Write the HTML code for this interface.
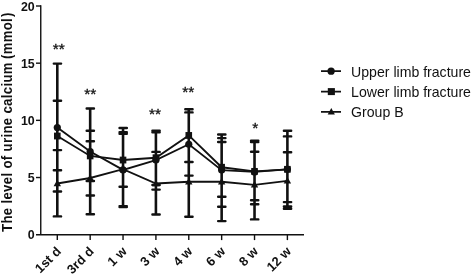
<!DOCTYPE html>
<html><head><meta charset="utf-8"><title>chart</title>
<style>
html,body{margin:0;padding:0;background:#fff;}
svg{display:block;font-family:"Liberation Sans",Arial,sans-serif;}
</style></head><body>
<svg width="472" height="275" viewBox="0 0 472 275">
<rect width="472" height="275" fill="#fff"/>

<g stroke="#111" stroke-width="1.4" fill="none">
<path d="M40.75 5.3 V234.7 "/>
<path d="M36 234.7 H304"/>
<path d="M36 177.52 H41"/>
<path d="M36 120.35 H41"/>
<path d="M36 63.17 H41"/>
<path d="M36 6.00 H41"/>
<path d="M57.30 234.7 V240.1"/>
<path d="M90.17 234.7 V240.1"/>
<path d="M123.04 234.7 V240.1"/>
<path d="M155.91 234.7 V240.1"/>
<path d="M188.78 234.7 V240.1"/>
<path d="M221.65 234.7 V240.1"/>
<path d="M254.52 234.7 V240.1"/>
<path d="M287.39 234.7 V240.1"/>
</g>
<g font-size="12.4" font-weight="bold" fill="#111" text-anchor="end">
<text x="34.7" y="239.30">0</text>
<text x="34.7" y="182.12">5</text>
<text x="34.7" y="124.95">10</text>
<text x="34.7" y="67.77">15</text>
<text x="34.7" y="10.60">20</text>
</g>
<g font-size="13" font-weight="bold" fill="#111" text-anchor="end">
<text transform="translate(61.80 252.2) rotate(-45)">1st d</text>
<text transform="translate(94.67 252.2) rotate(-45)">3rd d</text>
<text transform="translate(127.54 252.2) rotate(-45)">1 w</text>
<text transform="translate(160.41 252.2) rotate(-45)">3 w</text>
<text transform="translate(193.28 252.2) rotate(-45)">4 w</text>
<text transform="translate(226.15 252.2) rotate(-45)">6 w</text>
<text transform="translate(259.02 252.2) rotate(-45)">8 w</text>
<text transform="translate(291.89 252.2) rotate(-45)">12 w</text>
</g>
<text transform="translate(11.8 232) rotate(-90) scale(0.94 1)" letter-spacing="0.371" font-size="14" font-weight="bold" fill="#111">The level of urine calcium <tspan dx="-1.0">(mmol</tspan><tspan dx="1.0">)</tspan></text>
<g stroke="#111" fill="none">
<path stroke-width="2.6" d="M57.30 63.60 V216.40"/>
<path stroke-width="2.4" stroke-linecap="round" d="M53.80 63.60 h7.3M53.80 100.80 h7.3M53.80 150.10 h7.3M53.80 170.30 h7.3M53.80 191.50 h7.3M53.80 216.40 h7.3"/>
<path stroke-width="2.6" d="M90.17 108.50 V214.30"/>
<path stroke-width="2.4" stroke-linecap="round" d="M86.67 108.50 h7.3M86.67 130.70 h7.3M86.67 141.30 h7.3M86.67 181.00 h7.3M86.67 195.50 h7.3M86.67 214.30 h7.3"/>
<path stroke-width="2.6" d="M123.04 128.00 V207.10"/>
<path stroke-width="2.4" stroke-linecap="round" d="M119.54 128.00 h7.3M119.54 132.20 h7.3M119.54 133.80 h7.3M119.54 186.70 h7.3M119.54 206.10 h7.3M119.54 207.10 h7.3"/>
<path stroke-width="2.6" d="M155.91 130.70 V214.50"/>
<path stroke-width="2.4" stroke-linecap="round" d="M152.41 130.70 h7.3M152.41 132.30 h7.3M152.41 151.90 h7.3M152.41 185.00 h7.3M152.41 189.60 h7.3M152.41 214.50 h7.3"/>
<path stroke-width="2.6" d="M188.78 109.20 V216.70"/>
<path stroke-width="2.4" stroke-linecap="round" d="M185.28 109.20 h7.3M185.28 112.40 h7.3M185.28 162.00 h7.3M185.28 175.60 h7.3M185.28 216.70 h7.3"/>
<path stroke-width="2.6" d="M221.65 134.50 V221.10"/>
<path stroke-width="2.4" stroke-linecap="round" d="M218.15 134.50 h7.3M218.15 138.10 h7.3M218.15 142.00 h7.3M218.15 196.70 h7.3M218.15 206.80 h7.3M218.15 221.10 h7.3"/>
<path stroke-width="2.6" d="M254.52 140.60 V219.40"/>
<path stroke-width="2.4" stroke-linecap="round" d="M251.02 140.60 h7.3M251.02 142.00 h7.3M251.02 151.80 h7.3M251.02 200.30 h7.3M251.02 204.20 h7.3M251.02 219.40 h7.3"/>
<path stroke-width="2.6" d="M287.39 130.70 V208.70"/>
<path stroke-width="2.4" stroke-linecap="round" d="M283.89 130.70 h7.3M283.89 136.40 h7.3M283.89 152.20 h7.3M283.89 202.10 h7.3M283.89 206.50 h7.3M283.89 208.70 h7.3"/>
</g>
<g stroke="#111" stroke-width="1.85" fill="none">
<polyline points="57.30,127.55 90.17,151.57 123.04,169.88 155.91,160.04 188.78,144.25 221.65,170.11 254.52,171.94 287.39,169.31"/>
<polyline points="57.30,136.02 90.17,155.92 123.04,160.04 155.91,157.75 188.78,135.44 221.65,167.25 254.52,171.37 287.39,169.31"/>
<polyline points="57.30,183.49 90.17,178.00 123.04,169.19 155.91,183.49 188.78,181.78 221.65,181.78 254.52,184.86 287.39,180.86"/>
</g>
<g fill="#111">
<circle cx="57.30" cy="127.55" r="3.6"/>
<circle cx="90.17" cy="151.57" r="3.6"/>
<circle cx="123.04" cy="169.88" r="3.6"/>
<circle cx="155.91" cy="160.04" r="3.6"/>
<circle cx="188.78" cy="144.25" r="3.6"/>
<circle cx="221.65" cy="170.11" r="3.6"/>
<circle cx="254.52" cy="171.94" r="3.6"/>
<circle cx="287.39" cy="169.31" r="3.6"/>
<rect x="54.00" y="132.62" width="6.6" height="6.8"/>
<rect x="86.87" y="152.52" width="6.6" height="6.8"/>
<rect x="119.74" y="156.64" width="6.6" height="6.8"/>
<rect x="152.61" y="154.35" width="6.6" height="6.8"/>
<rect x="185.48" y="132.04" width="6.6" height="6.8"/>
<rect x="218.35" y="163.85" width="6.6" height="6.8"/>
<rect x="251.22" y="167.97" width="6.6" height="6.8"/>
<rect x="284.09" y="165.91" width="6.6" height="6.8"/>
<path d="M57.30 179.69 L61.00 186.19 H53.60 Z"/>
<path d="M90.17 174.20 L93.87 180.70 H86.47 Z"/>
<path d="M123.04 165.39 L126.74 171.89 H119.34 Z"/>
<path d="M155.91 179.69 L159.61 186.19 H152.21 Z"/>
<path d="M188.78 177.98 L192.48 184.48 H185.08 Z"/>
<path d="M221.65 177.98 L225.35 184.48 H217.95 Z"/>
<path d="M254.52 181.06 L258.22 187.56 H250.82 Z"/>
<path d="M287.39 177.06 L291.09 183.56 H283.69 Z"/>
</g>
<g font-size="15.5" fill="#111" stroke="#111" stroke-width="0.3" text-anchor="middle">
<text x="58.70" y="53.80">**</text>
<text x="90.20" y="98.60">**</text>
<text x="155.05" y="118.80">**</text>
<text x="188.25" y="97.05">**</text>
<text x="255.30" y="132.85">*</text>
</g>
<g stroke="#111" stroke-width="1.7"><path d="M321 71.2 H341 M321 91.6 H341 M321 111.9 H341"/></g>
<g fill="#111"><circle cx="331.1" cy="71.2" r="3.65"/><rect x="327.8" y="88.1" width="7.1" height="7"/><path d="M331.3 107.9 L334.9 114.5 H327.7 Z"/></g>
<g font-size="14.1" fill="#111"><text x="351.1" y="76.5">Upper limb fracture</text><text x="351.1" y="96.6">Lower limb fracture</text><text x="351.1" y="116.8">Group B</text></g>
</svg></body></html>
